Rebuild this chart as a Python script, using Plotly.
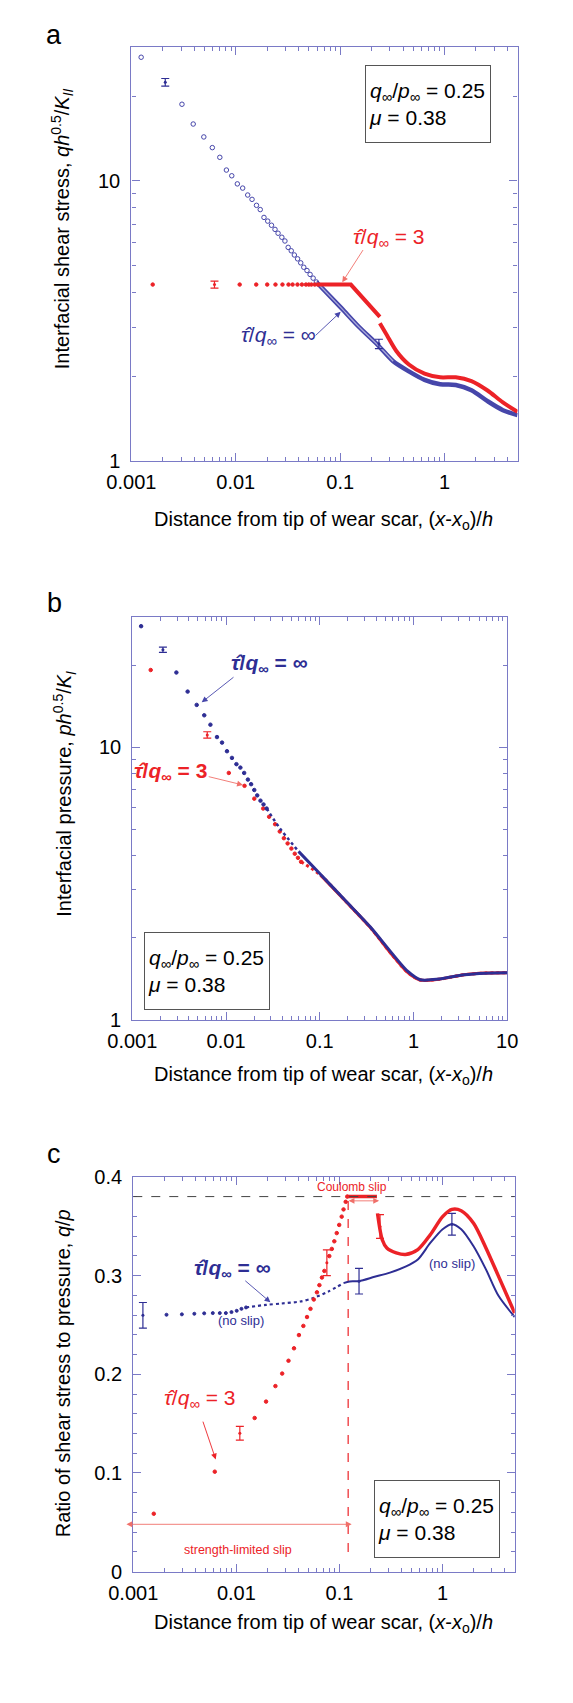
import numpy as np
import plotly.graph_objects as go

W, H = 573, 1703
BLUE = '#2e2e94'
BLUE_L = '#4646aa'
RED = '#ec2227'
RED_L = '#f0706a'
AX = '#7a7ac6'
FONT = 'Liberation Sans, Arial, sans-serif'

# ---------------- Panel a : interfacial shear stress ----------------
A_BLUE_X = [0.00124, 0.00305, 0.00391, 0.00494, 0.00596, 0.00703, 0.00813, 0.00915, 0.01035,
            0.01164, 0.01301, 0.01431, 0.01579, 0.01715, 0.01862, 0.02023, 0.02198, 0.02375,
            0.02541, 0.02761, 0.02957, 0.03175, 0.0340, 0.0364, 0.0391, 0.0419, 0.0448,
            0.0481, 0.0515, 0.0551, 0.0591]
A_BLUE_Y = [27.5, 18.7, 15.9, 14.3, 13.1, 12.1, 10.9, 10.4, 9.73,
            9.40, 8.88, 8.57, 8.16, 7.88, 7.39, 7.17, 6.93, 6.70,
            6.49, 6.28, 6.09, 5.78, 5.62, 5.43, 5.26, 5.09, 4.91,
            4.78, 4.63, 4.49, 4.35]
A_BLUE_DX = [0.0591, 0.1028, 0.150, 0.228, 0.322, 0.455, 0.643, 0.908, 1.28, 1.81, 2.56, 3.62, 5.0]
A_BLUE_DY = [4.35, 3.51, 3.02, 2.60, 2.27, 2.09, 1.95, 1.88, 1.87, 1.79, 1.64, 1.52, 1.46]
A_BLUE_EX = [0.00211, 0.235]
A_BLUE_EY = [22.4, 2.62]
A_BLUE_EE = [0.7, 0.1]

A_RED_X = [0.0016, 0.0109, 0.0157, 0.020, 0.024, 0.028, 0.032, 0.035, 0.039, 0.043,
           0.047, 0.050, 0.053, 0.057, 0.061]
A_RED_Y = [4.26] * 15
A_RED_L1X = [0.062, 0.1265, 0.240]
A_RED_L1Y = [4.26, 4.26, 3.27]
A_RED_L2X = [0.240, 0.2806, 0.345, 0.455, 0.643, 0.908, 1.28, 1.81, 2.56, 3.62, 5.0]
A_RED_L2Y = [3.10, 2.81, 2.47, 2.21, 2.05, 1.99, 1.99, 1.93, 1.79, 1.62, 1.50]
A_RED_EX = [0.00625]
A_RED_EY = [4.26]
A_RED_EE = [0.12]

# ---------------- Panel b : interfacial pressure ----------------
B_BLUE_X = [0.00124, 0.00295, 0.00389, 0.00486, 0.00585, 0.00681, 0.0080, 0.00906, 0.01023, 0.01156,
            0.0129, 0.01422, 0.0156, 0.0171, 0.0185, 0.020, 0.0215, 0.0233, 0.0251, 0.0271]
B_BLUE_Y = [27.8, 18.8, 16.0, 14.3, 13.1, 12.1, 10.9, 10.4, 9.67, 9.14,
            8.67, 8.42, 8.05, 7.61, 7.32, 6.97, 6.66, 6.37, 6.17, 5.96]
B_BLUE_MX = [0.0271, 0.0374, 0.0593]
B_BLUE_MY = [5.96, 5.05, 4.15]
B_BLUE_DX = [0.0593, 0.1016, 0.1875, 0.3467, 0.593, 0.871, 1.18, 1.876, 3.47, 5.93, 10]
B_BLUE_DY = [4.15, 3.42, 2.74, 2.19, 1.75, 1.505, 1.404, 1.412, 1.464, 1.484, 1.49]
B_BLUE_EX = [0.00212]
B_BLUE_EY = [22.8]
B_BLUE_EE = [0.5]

B_RED_X = [0.00157, 0.0107, 0.01574, 0.020, 0.0249, 0.0288, 0.0334, 0.0374, 0.0414, 0.0454,
           0.0498, 0.0541, 0.0585, 0.0631]
B_RED_Y = [19.2, 8.05, 7.22, 6.48, 5.96, 5.56, 5.22, 4.91, 4.64, 4.44,
           4.25, 4.07, 3.93, 3.80]
B_RED_DX = [0.0631, 0.1016, 0.1875, 0.3467, 0.593, 0.871, 1.18, 1.876, 3.47, 5.93, 10]
B_RED_DY = [3.80, 3.40, 2.73, 2.18, 1.73, 1.49, 1.40, 1.41, 1.465, 1.485, 1.49]
B_RED_EX = [0.0063]
B_RED_EY = [11.1]
B_RED_EE = [0.3]

# ---------------- Panel c : ratio q/p ----------------
MU = 0.38
C_SLIP_X = 0.1213
C_BLUE_X = [0.0021, 0.00296, 0.00391, 0.00487, 0.0059, 0.0069, 0.0079, 0.00896, 0.01007, 0.0112, 0.0124]
C_BLUE_Y = [0.2603, 0.2607, 0.2613, 0.2617, 0.262, 0.262, 0.262, 0.263, 0.2643, 0.2663, 0.2677]
C_BLUE_MX = [0.0124, 0.0194, 0.0275, 0.0416, 0.0548, 0.0775, 0.1094]
C_BLUE_MY = [0.2677, 0.2703, 0.2717, 0.2737, 0.277, 0.2837, 0.2923]
C_BLUE_DX = [0.1094, 0.1256, 0.1546, 0.2187, 0.3086, 0.4365, 0.575, 0.759, 1.0, 1.23, 1.514, 1.995, 2.63, 3.47, 5.0]
C_BLUE_DY = [0.2923, 0.294, 0.2943, 0.2987, 0.303, 0.309, 0.3163, 0.333, 0.347, 0.352, 0.347, 0.3297, 0.3063, 0.2797, 0.258]
C_BLUE_EX = [0.00124, 0.1546, 1.23]
C_BLUE_EY = [0.2597, 0.2943, 0.352]
C_BLUE_EE = [0.013, 0.013, 0.011]

C_RED_X = [0.00158, 0.00617, 0.01503, 0.0194, 0.0239, 0.0278, 0.032, 0.0362, 0.0404, 0.0446,
           0.0484, 0.0523, 0.0563, 0.0604, 0.0638, 0.0675, 0.0713, 0.0796, 0.0842, 0.089,
           0.094, 0.0993, 0.105, 0.1094, 0.1148, 0.1188]
C_RED_Y = [0.0587, 0.1013, 0.1557, 0.1723, 0.188, 0.2007, 0.2137, 0.2263, 0.2397, 0.249,
           0.258, 0.2663, 0.2757, 0.283, 0.2903, 0.298, 0.3047, 0.3197, 0.327, 0.3347,
           0.343, 0.3513, 0.3597, 0.367, 0.3747, 0.380]
C_RED_PX = [0.1188, 0.2307]
C_RED_PY = [0.38, 0.38]
C_RED_DX = [0.2337, 0.2597, 0.2877, 0.3548, 0.4365, 0.575, 0.759, 1.0, 1.23, 1.514, 1.995, 2.63, 3.47, 5.0]
C_RED_DY = [0.363, 0.3363, 0.328, 0.323, 0.3213, 0.3263, 0.3413, 0.3597, 0.367, 0.3657, 0.353, 0.328, 0.2997, 0.262]
C_RED_EX = [0.0108, 0.0754, 0.247]
C_RED_EY = [0.1403, 0.313, 0.3497]
C_RED_EE = [0.007, 0.013, 0.012]

fig = go.Figure()


def pts(x, y, ax, color, size=3.5, symbol='circle', lw=1):
    fig.add_trace(go.Scatter(x=x, y=y, xaxis='x' + ax, yaxis='y' + ax, mode='markers',
                             marker=dict(size=size, color=color, symbol=symbol,
                                         line=dict(width=lw, color=color)),
                             showlegend=False, hoverinfo='skip'))


def line(x, y, ax, color, width, dash='solid', shape='linear'):
    fig.add_trace(go.Scatter(x=x, y=y, xaxis='x' + ax, yaxis='y' + ax, mode='lines',
                             line=dict(color=color, width=width, dash=dash, shape=shape,
                                       smoothing=0.8 if shape == 'spline' else None),
                             showlegend=False, hoverinfo='skip'))


def ebar(x, y, e, ax, color):
    fig.add_trace(go.Scatter(x=x, y=y, xaxis='x' + ax, yaxis='y' + ax, mode='markers',
                             marker=dict(size=3, color=color),
                             error_y=dict(type='data', array=e, color=color, thickness=1.2, width=4),
                             showlegend=False, hoverinfo='skip'))


# panel a
pts(A_BLUE_X, A_BLUE_Y, '', BLUE_L, size=4.5, symbol='circle-open', lw=1)
line(A_BLUE_DX, A_BLUE_DY, '', BLUE_L, 4.5, shape='spline')
line(A_BLUE_DX[:5], A_BLUE_DY[:5], '', '#a9a9da', 1.3, shape='spline')
ebar(A_BLUE_EX, A_BLUE_EY, A_BLUE_EE, '', BLUE)
pts(A_RED_X, A_RED_Y, '', RED, size=3.5)
line(A_RED_L1X, A_RED_L1Y, '', RED, 4)
line(A_RED_L2X, A_RED_L2Y, '', RED, 4, shape='spline')
ebar(A_RED_EX, A_RED_EY, A_RED_EE, '', RED)

# panel b
pts(B_RED_X, B_RED_Y, '2', RED, size=3.5)
line(B_RED_DX, B_RED_DY, '2', RED, 3, dash='dot', shape='spline')
line(B_RED_DX[1:], B_RED_DY[1:], '2', RED, 3, shape='spline')
ebar(B_RED_EX, B_RED_EY, B_RED_EE, '2', RED)
pts(B_BLUE_X, B_BLUE_Y, '2', BLUE, size=3.5)
line(B_BLUE_MX, B_BLUE_MY, '2', BLUE, 2.5, dash='dot', shape='spline')
line(B_BLUE_DX, B_BLUE_DY, '2', BLUE, 3, shape='spline')
ebar(B_BLUE_EX, B_BLUE_EY, B_BLUE_EE, '2', BLUE)

# panel c
fig.add_shape(type='line', xref='x3 domain', yref='y3', x0=0, x1=1, y0=MU, y1=MU,
              line=dict(color='#444444', width=1, dash='dash'))
line([C_SLIP_X, C_SLIP_X], [0.02, MU], '3', RED, 1.2, dash='dash')
pts(C_BLUE_X, C_BLUE_Y, '3', BLUE, size=3)
line(C_BLUE_MX, C_BLUE_MY, '3', BLUE, 2.2, dash='dot', shape='spline')
line(C_BLUE_DX, C_BLUE_DY, '3', BLUE, 2, shape='spline')
ebar(C_BLUE_EX, C_BLUE_EY, C_BLUE_EE, '3', BLUE)
pts(C_RED_X, C_RED_Y, '3', RED, size=3.5)
line(C_RED_PX, C_RED_PY, '3', RED, 3.5)
line(C_RED_DX, C_RED_DY, '3', RED, 3.5, shape='spline')
ebar(C_RED_EX, C_RED_EY, C_RED_EE, '3', RED)


def dom_x(a, b):
    return [a / W, b / W]


def dom_y(top, bot):
    return [1 - bot / H, 1 - top / H]


TICKFONT = dict(family=FONT, size=20, color='black')


def xax(dom, hi, anchor):
    return dict(type='log', domain=dom, range=[-3, np.log10(hi)], anchor=anchor, dtick=1,
                showline=True, linecolor=AX, linewidth=1.3, mirror='ticks', ticks='inside',
                ticklen=8, tickwidth=1.2, tickcolor=AX, showgrid=False, zeroline=False,
                ticklabelstandoff=3, tickfont=TICKFONT,
                minor=dict(ticks='inside', ticklen=4, tickwidth=1, tickcolor=AX, dtick='D1', showgrid=False))


def ylog(dom, anchor):
    return dict(type='log', domain=dom, range=[0, np.log10(30)], anchor=anchor, dtick=1,
                showline=True, linecolor=AX, linewidth=1.3, mirror='ticks', ticks='inside',
                ticklen=8, tickwidth=1.2, tickcolor=AX, showgrid=False, zeroline=False,
                ticklabelstandoff=6, tickfont=TICKFONT,
                minor=dict(ticks='inside', ticklen=4, tickwidth=1, tickcolor=AX, dtick='D1', showgrid=False))


ylin = dict(type='linear', domain=dom_y(1173, 1573), range=[0, 0.4], anchor='x3', dtick=0.1,
            showline=True, linecolor=AX, linewidth=1.3, mirror='ticks', ticks='inside',
            ticklen=8, tickwidth=1.2, tickcolor=AX, showgrid=False, zeroline=False,
            ticklabelstandoff=6, tickfont=TICKFONT,
            minor=dict(ticks='inside', ticklen=4, tickwidth=1, tickcolor=AX, dtick=0.02, showgrid=False))

ann = []


def P(px, py):
    return px / W, 1 - py / H


def text(px, py, s, size=20, color='black', angle=0, **kw):
    x, y = P(px, py)
    d = dict(x=x, y=y, xref='paper', yref='paper', text=s, showarrow=False,
             xanchor='center', yanchor='middle', textangle=angle,
             font=dict(family=FONT, size=size, color=color))
    d.update(kw)
    ann.append(d)


def arrow(tx, ty, hx, hy, color, both=False, width=0.9):
    x, y = P(hx, hy)
    ann.append(dict(x=x, y=y, xref='paper', yref='paper', text='', showarrow=True,
                    ax=tx - hx, ay=ty - hy, axref='pixel', ayref='pixel',
                    arrowhead=2, arrowsize=1.3, arrowwidth=width, arrowcolor=color,
                    startarrowhead=2, startarrowsize=1.3,
                    arrowside='end+start' if both else 'end'))


XT = 'Distance from tip of wear scar, (<i>x</i>-<i>x</i><sub>o</sub>)/<i>h</i>'
BOX = '<i>q</i><sub>∞</sub>/<i>p</i><sub>∞</sub> = 0.25<br><i>μ</i> = 0.38'
TAU3 = '<i>τ̂</i>/<i>q</i><sub>∞</sub> = 3'
TAUI = '<i>τ̂</i>/<i>q</i><sub>∞</sub> = ∞'

# panel letters
text(22, 16, 'a', size=27)
text(23, 592, 'b', size=27)
text(22, 1150, 'c', size=27)

# axis titles
text(310, 508, XT)
text(310, 1070, XT)
text(310, 1625, XT)
text(31, 213, 'Interfacial shear stress, <i>qh</i><sup>0.5</sup>/<i>K</i><sub><i>II</i></sub>', angle=-90)
text(34, 785, 'Interfacial pressure, <i>ph</i><sup>0.5</sup>/<i>K</i><sub><i>I</i></sub>', angle=-90)
text(32, 1372, 'Ratio of shear stress to pressure, <i>q</i>/<i>p</i>', angle=-90)

# boxes
boxkw = dict(bordercolor='#555555', borderwidth=1, borderpad=3, bgcolor='white', align='left',
             width=118, height=70)
text(421.5, 86, BOX, size=21, **boxkw)
text(186, 964, BOX, size=21, **boxkw)
text(431, 1520, BOX, size=21, **boxkw)

# panel a labels
text(380, 222, TAU3, size=21, color=RED)
arrow(351.7, 233, 330, 266.7, RED_L)
text(262, 321, TAUI, size=21, color=BLUE)
arrow(301.7, 321.7, 328.3, 296.7, BLUE_L)

# panel b labels
text(252, 653, '<b>' + TAUI + '</b>', size=21, color=BLUE)
arrow(213.3, 666, 180, 692.3, BLUE_L)
text(147, 763, '<b>' + TAU3 + '</b>', size=21, color=RED)
arrow(188.3, 767.3, 224, 776, RED_L)

# panel c labels
text(213, 1266, '<b>' + TAUI + '</b>', size=21, color=BLUE)
arrow(226.7, 1277.3, 253.3, 1300, BLUE_L)
text(178, 1398, TAU3, size=21, color=RED)
arrow(181.7, 1420, 195, 1459.3, RED)
text(340, 1183, 'Coulomb slip', size=12, color=RED)
arrow(337.3, 1197.3, 369.3, 1197.3, RED_L, both=True)
text(219, 1551, 'strength-limited slip', size=12.5, color=RED)
arrow(113.3, 1525, 340, 1525, RED_L, both=True)
text(222, 1319, '(no slip)', size=13, color=BLUE)
text(447, 1261, '(no slip)', size=13, color=BLUE)

fig.update_layout(
    width=W, height=H, margin=dict(l=0, r=0, t=0, b=0),
    paper_bgcolor='white', plot_bgcolor='white', showlegend=False,
    xaxis=xax(dom_x(105, 517), 5, 'y'),
    yaxis=ylog(dom_y(28, 448), 'x'),
    xaxis2=xax(dom_x(106, 506), 10, 'y2'),
    yaxis2=ylog(dom_y(606, 1014), 'x2'),
    xaxis3=xax(dom_x(107, 514), 5, 'y3'),
    yaxis3=ylin,
    annotations=ann,
    font=dict(family=FONT),
)

fig.write_html('out.html')
